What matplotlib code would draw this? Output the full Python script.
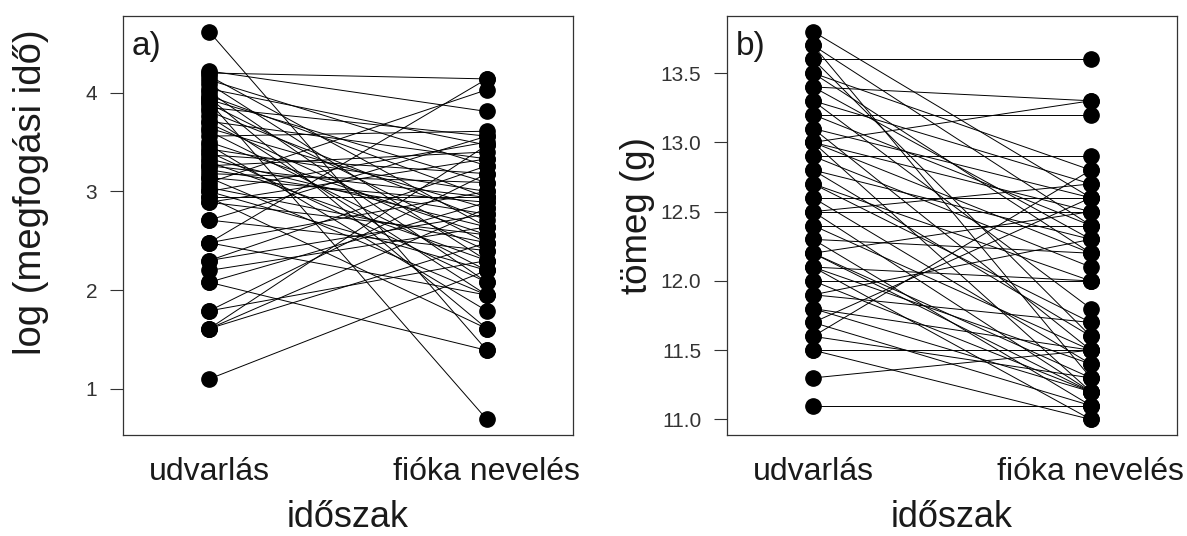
import numpy as np
import matplotlib
matplotlib.use('Agg')
import matplotlib.pyplot as plt

plt.rcParams['font.family'] = ['Liberation Sans', 'DejaVu Sans']

# a) log catch time, courtship vs. chick rearing (paired)
a_left = [4.62, 4.22, 4.20, 4.17, 4.13, 4.09, 4.04, 4.01, 3.97, 3.95,
          3.93, 3.91, 3.89, 3.85, 3.81, 3.76, 3.71, 3.69, 3.64, 3.61,
          3.56, 3.50, 3.47, 3.43, 3.40, 3.37, 3.33, 3.30, 3.26, 3.22,
          3.18, 3.14, 3.14, 3.09, 3.04, 3.00, 3.00, 2.94, 2.94, 2.89,
          2.89, 2.71, 2.71, 2.48, 2.48, 2.30, 2.30, 2.20, 2.08, 2.08,
          1.79, 1.79, 1.61, 1.61, 1.61, 1.10, 2.48, 3.26]
a_right = [1.39, 3.81, 4.14, 2.64, 3.26, 2.30, 3.47, 2.08, 2.94, 1.61,
           3.09, 0.69, 2.48, 3.56, 2.71, 1.95, 3.33, 2.40, 2.83, 2.20,
           3.61, 2.56, 1.79, 3.00, 2.08, 3.18, 2.64, 2.30, 3.40, 2.77,
           3.09, 1.95, 2.89, 4.03, 2.48, 3.50, 2.20, 2.94, 1.61, 3.33,
           2.56, 3.56, 2.40, 3.00, 1.95, 2.77, 3.26, 2.64, 2.89, 1.39,
           3.18, 2.30, 2.83, 3.47, 2.48, 2.20, 4.14, 2.94]

# b) body mass (g)
b_left = [13.8, 13.7, 13.7, 13.6, 13.6, 13.5, 13.5, 13.4, 13.4, 13.3,
          13.3, 13.2, 13.2, 13.1, 13.1, 13.0, 13.0, 13.0, 13.0, 12.9,
          12.9, 12.8, 12.8, 12.7, 12.7, 12.6, 12.6, 12.5, 12.5, 12.5,
          12.4, 12.4, 12.3, 12.3, 12.2, 12.2, 12.2, 12.1, 12.1, 12.1,
          12.0, 12.0, 11.9, 11.9, 11.8, 11.8, 11.7, 11.7, 11.6, 11.6,
          11.5, 11.5, 11.3, 11.1]
b_right = [12.6, 11.3, 12.4, 13.6, 11.6, 12.8, 12.2, 13.3, 12.3, 12.7,
           11.8, 13.2, 12.4, 11.5, 12.6, 13.3, 12.5, 12.2, 11.2, 12.9,
           12.1, 11.6, 12.3, 11.7, 12.0, 12.6, 11.4, 12.5, 12.7, 11.2,
           12.4, 11.5, 11.1, 12.2, 11.3, 12.5, 11.2, 11.4, 12.0, 11.0,
           12.0, 11.2, 12.3, 11.7, 11.2, 11.5, 12.6, 11.1, 11.3, 12.8,
           11.5, 11.0, 11.5, 11.1]

periods = ['udvarlás', 'fióka nevelés']
ink = '#1a1a1a'


def panel(ax, left, right, tag, yticks, fmt):
    left = np.array(left)
    right = np.array(right)
    xs = np.vstack([np.ones(len(left)), np.full(len(right), 2.0)])
    ys = np.vstack([left, right])
    ax.plot(xs, ys, color='black', lw=0.7, zorder=2)
    ax.plot(xs.ravel(), ys.ravel(), 'o', color='black', ms=11, zorder=3)

    lo = min(left.min(), right.min())
    hi = max(left.max(), right.max())
    pad = 0.04 * (hi - lo)
    ax.set_ylim(lo - pad, hi + pad)
    ax.set_xlim(0.69, 2.31)

    ax.set_xticks([1, 2])
    ax.set_xticklabels(periods, fontsize=23, color=ink)
    ax.tick_params(axis='x', length=0, pad=16)
    ax.set_yticks(yticks)
    ax.set_yticklabels([fmt % v for v in yticks], fontsize=15, color='#333333')
    ax.tick_params(axis='y', length=9.5, width=0.8, pad=9, color='#333333')

    for s in ax.spines.values():
        s.set_color('#333333')
        s.set_linewidth(0.9)

    ax.set_xlabel('időszak', fontsize=26, color=ink)
    ax.xaxis.set_label_coords(0.5, -0.155)
    ax.text(0.02, 0.965, tag, transform=ax.transAxes, fontsize=24,
            ha='left', va='top', color=ink)
    return ax


fig = plt.figure(figsize=(11.87, 5.36), dpi=100)
W, H = 1187.0, 536.0
ax1 = fig.add_axes([123 / W, 1 - 435 / H, 450 / W, 419 / H])
ax2 = fig.add_axes([727 / W, 1 - 435 / H, 450 / W, 419 / H])

panel(ax1, a_left, a_right, 'a)', [1, 2, 3, 4], '%d')
ax1.set_ylabel('log (megfogási idő)', fontsize=27.5, color=ink, va='center')
ax1.yaxis.set_label_coords(-0.205, 0.58)

panel(ax2, b_left, b_right, 'b)', [11.0, 11.5, 12.0, 12.5, 13.0, 13.5], '%.1f')
ax2.set_ylabel('tömeg (g)', fontsize=26.5, color=ink, va='center')
ax2.yaxis.set_label_coords(-0.198, 0.523)

fig.savefig('out.png', dpi=100)
